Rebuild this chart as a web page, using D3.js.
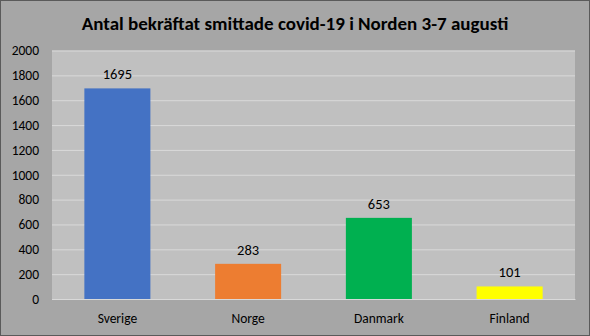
<!DOCTYPE html>
<html><head><meta charset="utf-8">
<script src="https://cdn.jsdelivr.net/npm/d3@7"></script>
<style>html,body{margin:0;padding:0;background:#a6a6a6;}svg{display:block;}</style>
</head><body>
<script>
const categories = ["Sverige", "Norge", "Danmark", "Finland"];
const values = [1695, 283, 653, 101];
const colors = ["#4472c4", "#ed7d31", "#00b050", "#ffff00"];
const yTicks = [0, 200, 400, 600, 800, 1000, 1200, 1400, 1600, 1800, 2000];
const title = "Antal bekräftat smittade covid-19 i Norden 3-7 augusti";

const W = 590, H = 336;
const m = {left: 52, right: 15, top: 50.5, bottom: 37};
const font = "Carlito, Calibri, 'Open Sans', sans-serif";

const svg = d3.select("body").append("svg").attr("width", W).attr("height", H);
svg.append("rect").attr("x", 0.5).attr("y", 0.5).attr("width", W - 1).attr("height", H - 1)
  .attr("fill", "#a6a6a6").attr("stroke", "#5a5a5a").attr("stroke-width", 1);

const x = d3.scaleBand().domain(categories).range([m.left, W - m.right]).paddingInner(0.495).paddingOuter(0.2475);
const y = d3.scaleLinear().domain([0, 2000]).range([H - m.bottom, m.top]);

svg.append("rect").attr("x", m.left).attr("y", m.top).attr("width", W - m.left - m.right)
  .attr("height", H - m.top - m.bottom).attr("fill", "#c0c0c0");

const yAxis = d3.axisLeft(y).tickValues(yTicks).tickSize(-(W - m.left - m.right)).tickPadding(13).tickFormat(d3.format("d"));
const gy = svg.append("g").attr("transform", `translate(${m.left},0)`).call(yAxis);
gy.select(".domain").remove();
gy.selectAll(".tick line").attr("stroke", "#d9d9d9").attr("stroke-width", 1);
gy.selectAll(".tick text").attr("fill", "#000").style("font-family", font).style("font-size", "13.5px");

svg.selectAll(".bar").data(values).enter().append("rect")
  .attr("x", (d, i) => x(categories[i]))
  .attr("y", d => y(d))
  .attr("width", x.bandwidth())
  .attr("height", d => y(0) - y(d))
  .attr("fill", (d, i) => colors[i]);

svg.selectAll(".lbl").data(values).enter().append("text")
  .attr("x", (d, i) => x(categories[i]) + x.bandwidth() / 2)
  .attr("y", d => y(d) - 9)
  .attr("text-anchor", "middle").attr("fill", "#000")
  .style("font-family", font).style("font-size", "14.5px")
  .text(d => d);

const xAxis = d3.axisBottom(x).tickSize(0).tickPadding(14);
const gx = svg.append("g").attr("transform", `translate(0,${H - m.bottom})`).call(xAxis);
gx.select(".domain").attr("stroke", "#d9d9d9");
gx.selectAll(".tick text").attr("fill", "#000").style("font-family", font).style("font-size", "13.5px");

svg.append("text").attr("x", W / 2).attr("y", 30).attr("text-anchor", "middle")
  .style("font-family", font).style("font-size", "19px").style("font-weight", "bold")
  .attr("fill", "#000").text(title);
</script>
</body></html>
